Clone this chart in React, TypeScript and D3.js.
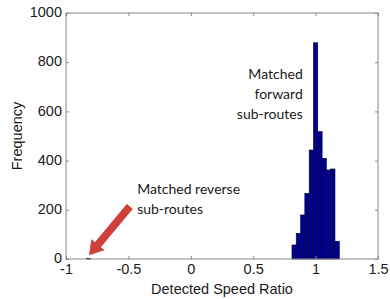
import { useEffect, useRef } from 'react';
import * as d3 from 'd3';

// histogram bins (centre of each bin) and the counts
const binCenters = [-0.82, 0.828, 0.862, 0.897, 0.931, 0.966, 1.0, 1.035, 1.069, 1.104, 1.138, 1.173];
const binCounts = [3, 57, 104, 179, 267, 443, 879, 518, 409, 362, 366, 72];
const binWidth = 0.0345;

const xTicks = [-1, -0.5, 0, 0.5, 1, 1.5];
const yTicks = [0, 200, 400, 600, 800, 1000];

// annotations, in data units
const reverseLabel = ['Matched reverse', 'sub-routes'];
const reverseAnchor = [-0.43, 264];
const forwardLabel = ['Matched', 'forward', 'sub-routes'];
const forwardAnchor = [0.897, 730];
const arrowFrom = [-0.49, 213];
const arrowTo = [-0.812, 17];

const W = 390;
const H = 299;
const margin = { top: 13, right: 12, bottom: 40, left: 66 };

export default function App() {
  const ref = useRef<SVGSVGElement>(null);

  useEffect(() => {
    const svg = d3.select(ref.current);
    svg.selectAll('*').remove();

    const x = d3.scaleLinear().domain([-1, 1.5]).range([margin.left, W - margin.right]);
    const y = d3.scaleLinear().domain([0, 1000]).range([H - margin.bottom, margin.top]);

    const axisColor = '#888';
    const textColor = '#1a1a1a';
    const tickFamily = '"Liberation Sans", Arial, sans-serif';
    const tickSize = '14.5px';

    // bars
    svg
      .append('g')
      .selectAll('rect')
      .data(binCenters)
      .enter()
      .append('rect')
      .attr('x', (c) => x(c - binWidth / 2))
      .attr('width', x(binWidth) - x(0))
      .attr('y', (_, i) => y(binCounts[i]))
      .attr('height', (_, i) => y(0) - y(binCounts[i]))
      .attr('fill', '#00008f')
      .attr('stroke', '#000033')
      .attr('stroke-width', 0.6);

    // box
    svg
      .append('rect')
      .attr('x', x(-1))
      .attr('y', y(1000))
      .attr('width', x(1.5) - x(-1))
      .attr('height', y(0) - y(1000))
      .attr('fill', 'none')
      .attr('stroke', axisColor)
      .attr('stroke-width', 1);

    const styleTicks = (g: d3.Selection<SVGGElement, unknown, null, undefined>) => {
      g.select('.domain').remove();
      g.attr('font-family', tickFamily).attr('font-size', tickSize);
      g.selectAll('.tick line').attr('stroke', axisColor);
      g.selectAll('.tick text').attr('fill', textColor);
    };

    // bottom + top axis
    svg
      .append('g')
      .attr('transform', `translate(0,${y(0)})`)
      .call(
        d3
          .axisBottom(x)
          .tickValues(xTicks)
          .tickSizeInner(-3)
          .tickSizeOuter(0)
          .tickPadding(5)
          .tickFormat((d) => String(d))
      )
      .call(styleTicks);
    svg
      .append('g')
      .attr('transform', `translate(0,${y(1000)})`)
      .call(d3.axisTop(x).tickValues(xTicks).tickSizeInner(-3).tickSizeOuter(0).tickFormat(() => ''))
      .call(styleTicks);

    // left + right axis
    svg
      .append('g')
      .attr('transform', `translate(${x(-1)},0)`)
      .call(
        d3
          .axisLeft(y)
          .tickValues(yTicks)
          .tickSizeInner(-3)
          .tickSizeOuter(0)
          .tickPadding(4)
          .tickFormat((d) => String(d))
      )
      .call(styleTicks)
      .call((g) => g.selectAll('.tick text').attr('dy', '0.25em'));
    svg
      .append('g')
      .attr('transform', `translate(${x(1.5)},0)`)
      .call(d3.axisRight(y).tickValues(yTicks).tickSizeInner(-3).tickSizeOuter(0).tickFormat(() => ''))
      .call(styleTicks);

    // axis titles
    svg
      .append('text')
      .attr('x', (x(-1) + x(1.5)) / 2)
      .attr('y', 294)
      .attr('text-anchor', 'middle')
      .attr('fill', textColor)
      .attr('font-family', tickFamily)
      .attr('font-size', tickSize)
      .text('Detected Speed Ratio');
    svg
      .append('text')
      .attr('transform', `translate(22,${(y(0) + y(1000)) / 2}) rotate(-90)`)
      .attr('text-anchor', 'middle')
      .attr('fill', textColor)
      .attr('font-family', tickFamily)
      .attr('font-size', tickSize)
      .text('Frequency');

    // arrow
    const x0 = x(arrowFrom[0]);
    const y0 = y(arrowFrom[1]);
    const x1 = x(arrowTo[0]);
    const y1 = y(arrowTo[1]);
    const len = Math.hypot(x1 - x0, y1 - y0);
    const ux = (x1 - x0) / len;
    const uy = (y1 - y0) / len;
    const px = -uy;
    const py = ux;
    const shaft = 3.6;
    const head = 8;
    const headLen = 13;
    const bx = x1 - ux * headLen;
    const by = y1 - uy * headLen;
    const pts: [number, number][] = [
      [x0 + px * shaft, y0 + py * shaft],
      [bx + px * shaft, by + py * shaft],
      [bx + px * head, by + py * head],
      [x1, y1],
      [bx - px * head, by - py * head],
      [bx - px * shaft, by - py * shaft],
      [x0 - px * shaft, y0 - py * shaft]
    ];
    svg
      .append('path')
      .attr('d', d3.line()(pts) + 'Z')
      .attr('fill', '#d0403a')
      .attr('stroke', '#b8332e')
      .attr('stroke-width', 0.6);

    // annotation text
    const annFamily = 'Lato, "Open Sans", sans-serif';
    svg
      .append('text')
      .attr('fill', textColor)
      .attr('font-family', annFamily)
      .attr('font-size', '14px')
      .selectAll('tspan')
      .data(reverseLabel)
      .enter()
      .append('tspan')
      .attr('x', x(reverseAnchor[0]))
      .attr('y', (_, i) => y(reverseAnchor[1]) + i * 20)
      .text((d) => d);
    svg
      .append('text')
      .attr('fill', textColor)
      .attr('text-anchor', 'end')
      .attr('font-family', annFamily)
      .attr('font-size', '14px')
      .selectAll('tspan')
      .data(forwardLabel)
      .enter()
      .append('tspan')
      .attr('x', x(forwardAnchor[0]))
      .attr('y', (_, i) => y(forwardAnchor[1]) + i * 20)
      .text((d) => d);
  }, []);

  return (
    <svg
      ref={ref}
      width={W}
      height={H}
      style={{ position: 'fixed', left: 0, top: 0, background: '#fff' }}
    />
  );
}
